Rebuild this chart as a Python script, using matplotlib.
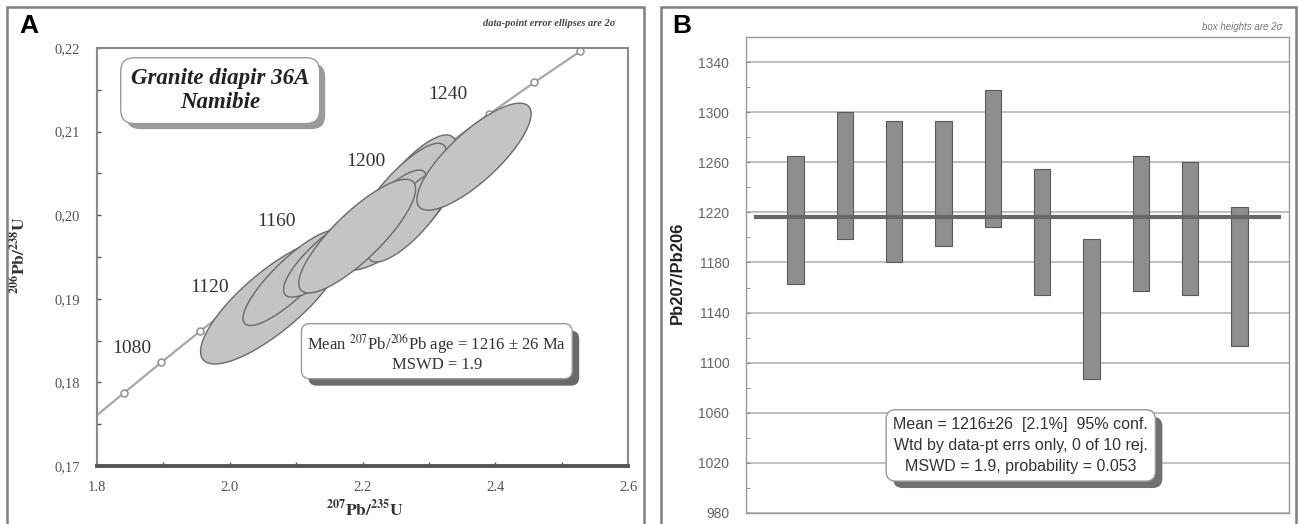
import numpy as np
import matplotlib
matplotlib.use('Agg')
import matplotlib.pyplot as plt
from matplotlib import patheffects
from matplotlib.patches import Rectangle

plt.rcParams['mathtext.fontset'] = 'stix'

# --- Panel A : concordia + ellipses ---
conc_t = [1040, 1060, 1080, 1100, 1120, 1140, 1160, 1180, 1200, 1220, 1240, 1260, 1280]
conc_x = [1.785, 1.840, 1.897, 1.955, 2.013, 2.073, 2.134, 2.197, 2.260, 2.325, 2.391, 2.459, 2.528]
conc_y = [0.1751, 0.1787, 0.1824, 0.1861, 0.1897, 0.1934, 0.1972, 0.2009, 0.2046, 0.2083, 0.2121, 0.2159, 0.2196]

age_labels = ['1080', '1120', '1160', '1200', '1240']
age_lab_x = [1.853, 1.969, 2.071, 2.205, 2.329]
age_lab_y = [0.1840, 0.1913, 0.1992, 0.2064, 0.2144]

# ellipses: centre, 2-sigma half widths, correlation
ell_x = [2.064, 2.094, 2.151, 2.264, 2.256, 2.249, 2.226, 2.272, 2.192, 2.368]
ell_sx = [0.108, 0.074, 0.070, 0.078, 0.070, 0.085, 0.070, 0.064, 0.088, 0.086]
ell_y = [0.1897, 0.1925, 0.1952, 0.2018, 0.2024, 0.1992, 0.1994, 0.2000, 0.1975, 0.2070]
ell_sy = [0.0075, 0.0057, 0.0050, 0.0078, 0.0062, 0.0058, 0.0060, 0.0056, 0.0068, 0.0064]
ell_rho = [0.80, 0.85, 0.82, 0.80, 0.83, 0.78, 0.85, 0.80, 0.83, 0.80]

xticks_a = [1.8, 2.0, 2.2, 2.4, 2.6]
xticklabels_a = ['1.8', '2.0', '2.2', '2.4', '2.6']
yticks_a = [0.17, 0.18, 0.19, 0.20, 0.21, 0.22]
yticklabels_a = ['0,17', '0,18', '0,19', '0,20', '0,21', '0,22']

# --- Panel B : Pb207/Pb206 ages ---
spot = [1, 2, 3, 4, 5, 6, 7, 8, 9, 10]
box_hi = [1265, 1300, 1293, 1293, 1318, 1255, 1199, 1265, 1260, 1224]
box_lo = [1163, 1199, 1180, 1193, 1208, 1154, 1087, 1157, 1154, 1113]
mean_age = 1216
yticks_b = [980, 1020, 1060, 1100, 1140, 1180, 1220, 1260, 1300, 1340]

W, H = 1298, 524
fig = plt.figure(figsize=(W / 100, H / 100), dpi=100)


def fx(px):
    return px / W


def fy(py):
    return 1 - py / H


# panel frames
for x0, x1 in [(7, 644), (661, 1296)]:
    fig.add_artist(Rectangle((fx(x0), fy(530)), fx(x1 - x0), (530 - 7) / H,
                             transform=fig.transFigure, fill=False,
                             ec='#808080', lw=1.8))

serif = 'Liberation Serif'
sans = 'Liberation Sans'

# ================= Panel A =================
ax = fig.add_axes([fx(97), fy(466), fx(628 - 97), (466 - 48) / H])
ax.set_xlim(1.8, 2.6)
ax.set_ylim(0.17, 0.22)

ax.plot(conc_x, conc_y, color='#a8a8a8', lw=1.6, zorder=2)
ax.plot(conc_x[1:], conc_y[1:], 'o', ms=5, mfc='white', mec='#909090',
        mew=1.1, zorder=2)

t = np.linspace(0, 2 * np.pi, 200)
for cx, sx, cy, sy, r in zip(ell_x, ell_sx, ell_y, ell_sy, ell_rho):
    ex = cx + sx * np.cos(t)
    ey = cy + sy * (r * np.cos(t) + np.sqrt(1 - r ** 2) * np.sin(t))
    ax.fill(ex, ey, fc='#c4c4c4', ec='#6a6a6a', lw=1.0, zorder=3)

for lab, lx, ly in zip(age_labels, age_lab_x, age_lab_y):
    ax.text(lx, ly, lab, family=serif, fontsize=14, color='#333333',
            ha='center', va='center', zorder=4)

ax.set_xticks(xticks_a)
ax.set_xticklabels(xticklabels_a, family=serif, fontsize=10.5, color='#555555')
ax.set_yticks(yticks_a)
ax.set_yticklabels(yticklabels_a, family=serif, fontsize=10.5, color='#555555')
ax.set_xticks([1.9, 2.1, 2.3, 2.5], minor=True)
ax.set_yticks([0.175, 0.185, 0.195, 0.205, 0.215], minor=True)
ax.tick_params(which='both', direction='in', length=3, color='#555555', width=1)
ax.tick_params(axis='x', which='major', pad=11)
ax.tick_params(axis='y', which='major', pad=12)
for s in ['top', 'right', 'left']:
    ax.spines[s].set_color('#8a8a8a')
    ax.spines[s].set_linewidth(1.5)
ax.spines['bottom'].set_color('#555555')
ax.spines['bottom'].set_linewidth(2.8)

ax.set_xlabel(r'$\mathbf{^{207}Pb/^{235}U}$', fontsize=12.5, color='#333333')
ax.xaxis.set_label_coords(0.505, -0.078)
ax.set_ylabel(r'$\mathbf{^{206}Pb/^{238}U}$', fontsize=12.5, color='#333333')
ax.yaxis.set_label_coords(-0.128, 0.505)

title = ax.text(0.232, 0.898, 'Granite diapir 36A\nNamibie', transform=ax.transAxes,
                family=serif, style='italic', weight='bold', fontsize=16.5,
                color='#222222', ha='center', va='center', multialignment='center',
                linespacing=1.2, zorder=6,
                bbox=dict(boxstyle='round,pad=0.45,rounding_size=0.6', fc='white',
                          ec='#9a9a9a', lw=1.0))
title.get_bbox_patch().set_path_effects(
    [patheffects.withSimplePatchShadow(offset=(4, -4), shadow_rgbFace='#9a9a9a', alpha=1)])

mean_a = ax.text(0.640, 0.272,
                 'Mean $^{207}$Pb/$^{206}$Pb age = 1216 ± 26 Ma\nMSWD = 1.9',
                 transform=ax.transAxes, family=serif, fontsize=12, color='#333333',
                 ha='center', va='center', multialignment='center', zorder=6,
                 linespacing=1.1,
                 bbox=dict(boxstyle='round,pad=0.35,rounding_size=0.5', fc='white',
                           ec='#9a9a9a', lw=1.0))
mean_a.get_bbox_patch().set_path_effects(
    [patheffects.withSimplePatchShadow(offset=(5, -5), shadow_rgbFace='#6a6a6a', alpha=1)])

fig.text(fx(615), fy(24), 'data-point error ellipses are 2σ', family=serif,
         style='italic', weight='bold', fontsize=7.5, color='#444444',
         ha='right', va='center')
fig.text(fx(19), fy(26), 'A', family=sans, weight='bold', fontsize=19,
         color='black', ha='left', va='center')

# ================= Panel B =================
bx = fig.add_axes([fx(746), fy(513), fx(1289 - 746), (513 - 37) / H])
bx.set_xlim(0, 11)
bx.set_ylim(980, 1360)
bx.set_yticks(yticks_b)
bx.set_yticks(np.array(yticks_b[:-1]) + 20, minor=True)
bx.set_xticks([])
bx.grid(axis='y', color='#b5b5b5', lw=1.2, zorder=0)
bx.set_axisbelow(True)

heights = [h - l for h, l in zip(box_hi, box_lo)]
bx.bar(spot, heights, bottom=box_lo, width=0.33, color='#8e8e8e',
       edgecolor='#5a5a5a', lw=0.8, zorder=3)
bx.plot([0.2, 10.8], [mean_age, mean_age], color='#676767', lw=3, zorder=4)

bx.tick_params(axis='y', which='both', direction='in', length=3, color='#888888',
               labelcolor='#666666', labelsize=10, pad=12)
for lab in bx.get_yticklabels():
    lab.set_family(sans)
for s in bx.spines.values():
    s.set_color('#9a9a9a')
    s.set_linewidth(1.0)

bx.set_ylabel('Pb207/Pb206', family=sans, weight='bold', fontsize=12, color='#222222')
bx.yaxis.set_label_coords(-0.113, 0.504)

mean_b = bx.text(0.506, 0.142,
                 'Mean = 1216±26  [2.1%]  95% conf.\n'
                 'Wtd by data-pt errs only, 0 of 10 rej.\n'
                 'MSWD = 1.9, probability = 0.053',
                 transform=bx.transAxes, family=sans, fontsize=11.5, color='#333333',
                 ha='center', va='center', multialignment='center', linespacing=1.5,
                 zorder=6,
                 bbox=dict(boxstyle='round,pad=0.45,rounding_size=0.6', fc='white',
                           ec='#9a9a9a', lw=1.0))
mean_b.get_bbox_patch().set_path_effects(
    [patheffects.withSimplePatchShadow(offset=(5, -5), shadow_rgbFace='#707070', alpha=1)])

fig.text(fx(1282), fy(27), 'box heights are 2σ', family=sans, style='italic',
         fontsize=7, color='#777777', ha='right', va='center')
fig.text(fx(672), fy(26), 'B', family=sans, weight='bold', fontsize=19,
         color='black', ha='left', va='center')

plt.savefig('out.png', dpi=100)
plt.close()
